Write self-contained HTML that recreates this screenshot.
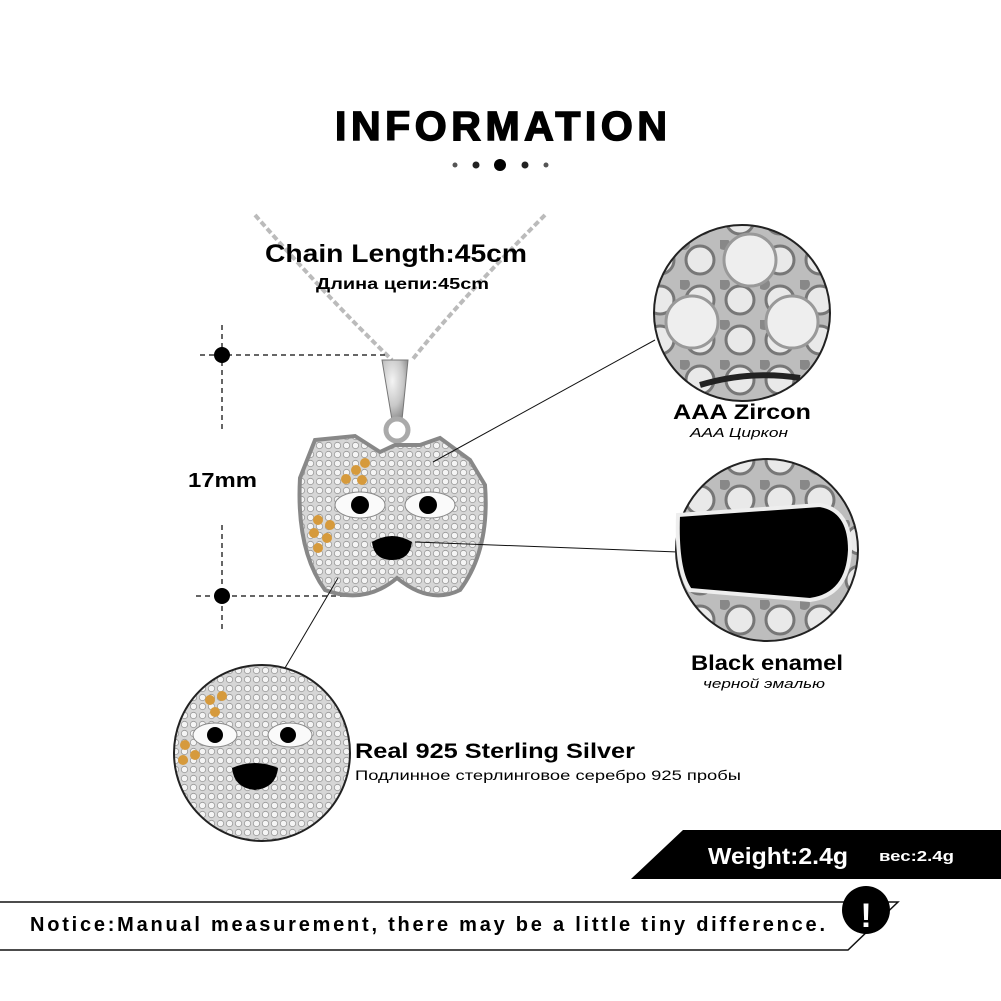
<!DOCTYPE html>
<html><head><meta charset="utf-8"><style>
html,body{margin:0;padding:0;background:#fff}
svg{display:block}
text{font-family:"Liberation Sans",sans-serif}
</style></head><body>
<svg width="1001" height="1001" viewBox="0 0 1001 1001" xmlns="http://www.w3.org/2000/svg">
<defs>
<radialGradient id="sil" cx="40%" cy="35%" r="70%">
<stop offset="0" stop-color="#f4f4f4"/><stop offset="0.6" stop-color="#c8c8c8"/><stop offset="1" stop-color="#8a8a8a"/>
</radialGradient>
<pattern id="pave" width="9" height="9" patternUnits="userSpaceOnUse">
<rect width="9" height="9" fill="#d6d6d6"/><circle cx="4.5" cy="4.5" r="3.2" fill="#f4f4f4" stroke="#999" stroke-width="0.8"/>
</pattern>
<pattern id="pave2" width="40" height="40" patternUnits="userSpaceOnUse">
<rect width="40" height="40" fill="#bdbdbd"/><circle cx="20" cy="20" r="14" fill="#e9e9e9" stroke="#777" stroke-width="3"/><circle cx="4" cy="4" r="6" fill="#888"/>
</pattern>
</defs>
<text x="335" y="140" font-size="41" font-weight="bold" textLength="332" lengthAdjust="spacing" stroke="#000" stroke-width="1.5">INFORMATION</text>
<circle cx="455" cy="165" r="2.5" fill="#555"/><circle cx="476" cy="165" r="3.5" fill="#222"/><circle cx="500" cy="165" r="6" fill="#000"/><circle cx="525" cy="165" r="3.5" fill="#222"/><circle cx="546" cy="165" r="2.5" fill="#555"/>
<path d="M255 215 Q330 300 392 360 M545 215 Q460 300 412 360" stroke="#bbb" stroke-width="4" fill="none" stroke-dasharray="6 3"/>
<text x="265" y="262" font-size="25" font-weight="bold" textLength="262" lengthAdjust="spacingAndGlyphs">Chain Length:45cm</text>
<text x="316" y="289" font-size="16" font-weight="bold" textLength="173" lengthAdjust="spacingAndGlyphs">Длина цепи:45cm</text>
<g stroke="#333" stroke-width="1.5" stroke-dasharray="5 4" fill="none">
<line x1="222" y1="325" x2="222" y2="432"/><line x1="222" y1="525" x2="222" y2="630"/>
<line x1="200" y1="355" x2="385" y2="355"/><line x1="196" y1="596" x2="355" y2="596"/>
</g>
<circle cx="222" cy="355" r="8" fill="#000"/><circle cx="222" cy="596" r="8" fill="#000"/>
<text x="188" y="487" font-size="20" font-weight="bold" textLength="69" lengthAdjust="spacingAndGlyphs">17mm</text>
<path d="M382 360 L408 360 L402 420 L392 420 Z" fill="url(#sil)" stroke="#777"/>
<circle cx="397" cy="430" r="11" fill="none" stroke="#aaa" stroke-width="5"/>
<path d="M300 478 L315 440 L355 436 L380 452 L395 445 L420 445 L440 438 L470 460 L485 485 Q490 550 460 590 Q430 605 397 578 Q365 605 325 590 Q296 550 300 478 Z" fill="url(#pave)" stroke="#888" stroke-width="4"/>
<g fill="#d69a3c"><circle cx="365" cy="463" r="5"/><circle cx="356" cy="470" r="5"/><circle cx="346" cy="479" r="5"/><circle cx="362" cy="480" r="5"/><circle cx="318" cy="520" r="5"/><circle cx="330" cy="525" r="5"/><circle cx="314" cy="533" r="5"/><circle cx="327" cy="538" r="5"/><circle cx="318" cy="548" r="5"/></g>
<ellipse cx="360" cy="505" rx="25" ry="13" fill="#fafafa" stroke="#888"/><circle cx="360" cy="505" r="9" fill="#000"/>
<ellipse cx="430" cy="505" rx="25" ry="13" fill="#fafafa" stroke="#888"/><circle cx="428" cy="505" r="9" fill="#000"/>
<path d="M372 542 Q392 530 412 542 Q410 560 392 560 Q374 560 372 542 Z" fill="#000"/>
<g stroke="#111" stroke-width="1"><line x1="433" y1="462" x2="655" y2="340"/><line x1="415" y1="542" x2="678" y2="552"/><line x1="338" y1="578" x2="272" y2="690"/></g>
<circle cx="742" cy="313" r="88" fill="url(#pave2)" stroke="#222" stroke-width="2"/>
<circle cx="750" cy="260" r="26" fill="#eee" stroke="#999" stroke-width="3"/><circle cx="692" cy="322" r="26" fill="#eee" stroke="#999" stroke-width="3"/><circle cx="792" cy="322" r="26" fill="#eee" stroke="#999" stroke-width="3"/>
<path d="M700 385 Q750 370 800 378" stroke="#222" stroke-width="6" fill="none"/>
<text x="673" y="419" font-size="21" font-weight="bold" textLength="138" lengthAdjust="spacingAndGlyphs">AAA  Zircon</text>
<text x="690" y="437" font-size="13" font-style="italic" textLength="98" lengthAdjust="spacingAndGlyphs">AAA Циркон</text>
<circle cx="767" cy="550" r="91" fill="url(#pave2)" stroke="#222" stroke-width="2"/>
<path d="M678 515 L820 505 Q850 510 850 550 Q848 595 810 600 L690 590 Q676 570 678 515 Z" fill="#000" stroke="#eee" stroke-width="4"/>
<text x="691" y="670" font-size="21" font-weight="bold" textLength="152" lengthAdjust="spacingAndGlyphs">Black enamel</text>
<text x="703" y="688" font-size="13" font-style="italic" textLength="122" lengthAdjust="spacingAndGlyphs">черной эмалью</text>
<circle cx="262" cy="753" r="88" fill="url(#pave)" stroke="#222" stroke-width="2"/>
<g fill="#d69a3c"><circle cx="210" cy="700" r="5"/><circle cx="222" cy="696" r="5"/><circle cx="215" cy="712" r="5"/><circle cx="185" cy="745" r="5"/><circle cx="195" cy="755" r="5"/><circle cx="183" cy="760" r="5"/></g>
<ellipse cx="215" cy="735" rx="22" ry="12" fill="#fafafa" stroke="#888"/><circle cx="215" cy="735" r="8" fill="#000"/>
<ellipse cx="290" cy="735" rx="22" ry="12" fill="#fafafa" stroke="#888"/><circle cx="288" cy="735" r="8" fill="#000"/>
<path d="M232 768 Q255 758 278 768 Q276 788 255 790 Q234 788 232 768 Z" fill="#000"/>
<text x="355" y="758" font-size="21" font-weight="bold" textLength="280" lengthAdjust="spacingAndGlyphs">Real 925  Sterling  Silver</text>
<text x="355" y="780" font-size="14" textLength="386" lengthAdjust="spacingAndGlyphs">Подлинное стерлинговое серебро 925 пробы</text>
<polygon points="683,830 1001,830 1001,879 631,879" fill="#000"/>
<text x="708" y="864" font-size="23" font-weight="bold" fill="#fff" textLength="140" lengthAdjust="spacingAndGlyphs">Weight:2.4g</text>
<text x="879" y="861" font-size="15" font-weight="bold" fill="#fff" textLength="75" lengthAdjust="spacingAndGlyphs">вес:2.4g</text>
<polyline points="0,902 898,902 848,950 0,950" fill="none" stroke="#111" stroke-width="1.5"/>
<text x="30" y="931" font-size="20" font-weight="bold" textLength="795" lengthAdjust="spacing">Notice:Manual measurement, there may be a little tiny difference.</text>
<circle cx="866" cy="910" r="24" fill="#000"/>
<text x="866" y="927" text-anchor="middle" font-size="34" font-weight="bold" fill="#fff">!</text>
</svg>
</body></html>
